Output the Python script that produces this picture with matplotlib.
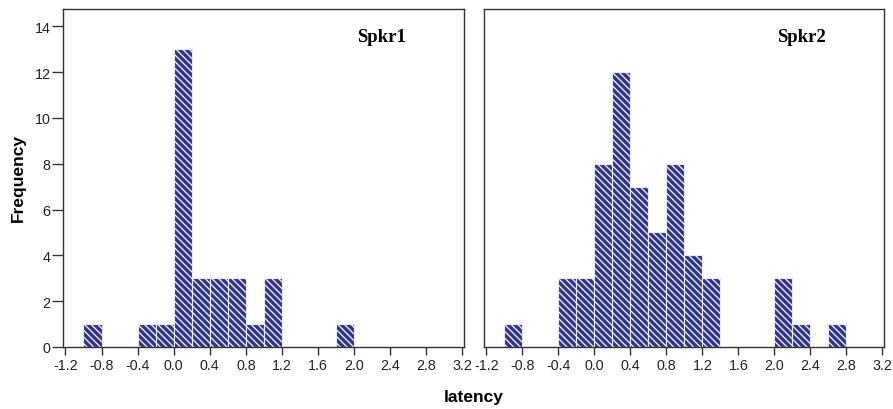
import matplotlib
matplotlib.use("Agg")
import matplotlib.pyplot as plt
import numpy as np

bin_edges = np.round(np.arange(-1.2, 3.2001, 0.2), 2)
# counts per 0.2-wide bin starting at -1.2
spkr1_counts = [0, 1, 0, 0, 1, 1, 13, 3, 3, 3, 1, 3, 0, 0, 0, 1, 0, 0, 0, 0, 0, 0]
spkr2_counts = [0, 1, 0, 0, 3, 3, 8, 12, 7, 5, 8, 4, 3, 0, 0, 0, 3, 1, 0, 1, 0, 0]
panel_titles = ["Spkr1", "Spkr2"]
xticks = [-1.2, -0.8, -0.4, 0.0, 0.4, 0.8, 1.2, 1.6, 2.0, 2.4, 2.8, 3.2]
yticks = [0, 2, 4, 6, 8, 10, 12, 14]

plt.rcParams['hatch.linewidth'] = 1.0
fig = plt.figure(figsize=(8.93, 4.10), dpi=100)
ax1 = fig.add_axes([63/893, 1 - 348/410, 401/893, 338/410])
ax2 = fig.add_axes([484/893, 1 - 348/410, 400/893, 338/410])

face = '#2f3487'
for ax, counts, title in zip([ax1, ax2], [spkr1_counts, spkr2_counts], panel_titles):
    lefts = bin_edges[:-1]
    h = np.array(counts)
    m = h > 0
    ax.bar(lefts[m], h[m], width=0.2, align='edge', color=face,
           edgecolor='#e8e8f0', linewidth=0.8, hatch='\\' * 5)
    ax.set_xlim(-1.227, 3.218)
    ax.set_ylim(0, 14.75)
    ax.set_xticks(xticks)
    ax.set_xticklabels([f"{t:.1f}" for t in xticks], fontsize=10.3, color='#222222',
                       family='Liberation Sans')
    ax.tick_params(axis='x', direction='out', length=6, width=1, color='#333333', pad=2)
    for s in ax.spines.values():
        s.set_color('#333333')
        s.set_linewidth(1.0)
    ax.text(0.855, 0.918, title, transform=ax.transAxes, ha='right', va='center',
            fontsize=13.5, fontweight='bold', family='Liberation Serif')

ax1.set_yticks(yticks)
ax1.set_yticklabels([str(t) for t in yticks], fontsize=10.3, color='#222222',
                    family='Liberation Sans')
ax1.tick_params(axis='y', direction='out', length=8, width=1, color='#333333', pad=1)
ax2.set_yticks([])

fig.text(18/893, 1 - 178/410, "Frequency", rotation=90, ha='center', va='center',
         fontsize=12.5, fontweight='bold', family='Liberation Sans')
fig.text(474/893, 1 - 398/410, "latency", ha='center', va='center',
         fontsize=12.5, fontweight='bold', family='Liberation Sans')

fig.savefig("out.png", dpi=100)
